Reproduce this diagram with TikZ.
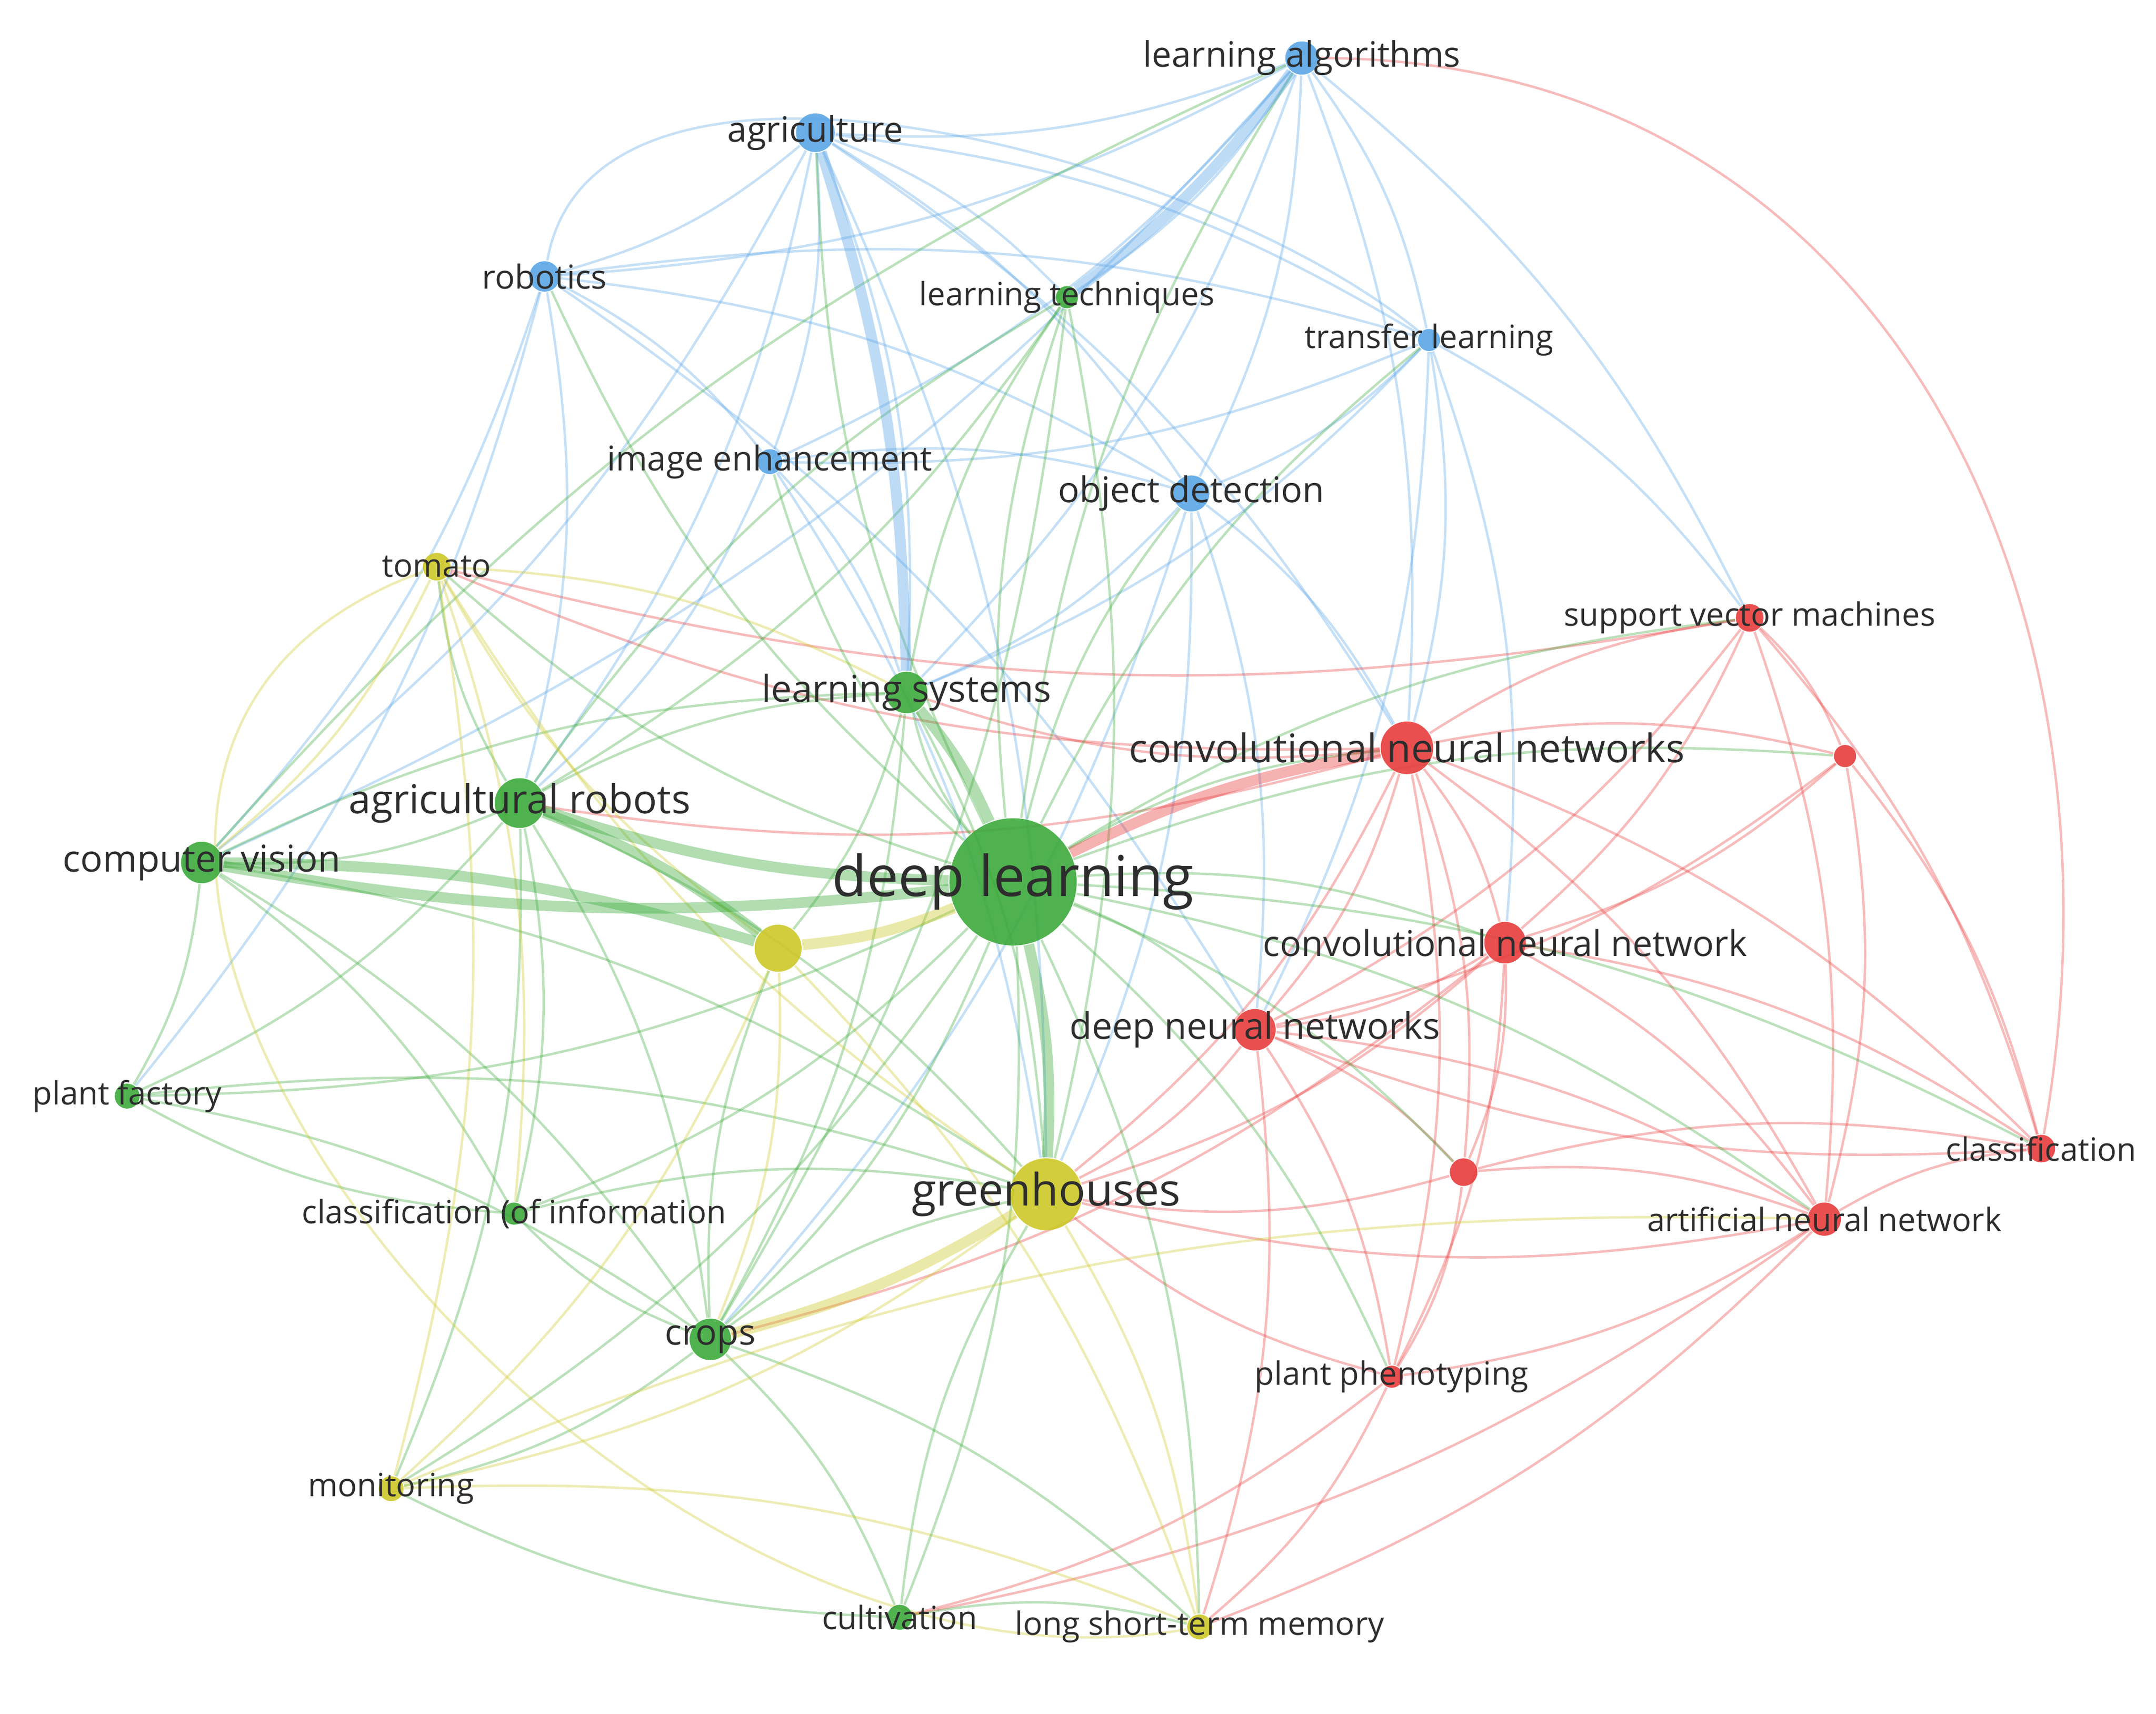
\documentclass[tikz,border=0pt]{standalone}
\usepackage{fontspec}
\setmainfont{Open Sans}
\pgfdeclarelayer{bg}
\pgfsetlayers{bg,main}
\begin{document}
\begin{tikzpicture}[x=0.01cm,y=-0.01cm]
\definecolor{G}{RGB}{60,170,60}
\definecolor{B}{RGB}{90,165,230}
\definecolor{R}{RGB}{232,60,60}
\definecolor{Y}{RGB}{205,200,40}
\definecolor{T}{RGB}{45,45,45}
\tikzset{
  nd/.style={circle,inner sep=0pt,fill=#1,draw=none,fill opacity=0.9},
  lb/.style={text=T,inner sep=0pt},
  edge/.style={draw=#1,draw opacity=0.35,line width=0.5pt},
  tedge/.style={draw=#1,draw opacity=0.4,line width=2.2pt}
}
\useasboundingbox (0,0) rectangle (1560,1240);
\newcommand\NN[5]{\node[nd=#5,minimum size=#4*0.02cm] (#1) at (#2,#3) {};}
\NN{la}{942}{42}{12}{B}
\NN{ag}{590}{96}{14}{B}
\NN{rob}{394}{200}{11}{B}
\NN{lt}{772}{215}{8}{G}
\NN{tl}{1034}{246}{8}{B}
\NN{ie}{557}{334}{9}{B}
\NN{od}{862}{357}{13}{B}
\NN{tom}{316}{410}{10}{Y}
\NN{svm}{1266}{447}{10}{R}
\NN{ls}{656}{501}{15}{G}
\NN{cnns}{1018}{541}{19}{R}
\NN{ra}{1335}{547}{8}{R}
\NN{ar}{376}{581}{18}{G}
\NN{cv}{146}{624}{15}{G}
\NN{dl}{733}{638}{46}{G}
\NN{ya}{563}{686}{17}{Y}
\NN{cnn}{1089}{682}{15}{R}
\NN{dnn}{908}{745}{15}{R}
\NN{pf}{92}{793}{9}{G}
\NN{cls}{1477}{831}{10}{R}
\NN{rb}{1059}{848}{10}{R}
\NN{gh}{757}{864}{26}{Y}
\NN{coi}{372}{878}{8}{G}
\NN{ann}{1320}{882}{12}{R}
\NN{crops}{514}{969}{15}{G}
\NN{pp}{1007}{996}{8}{R}
\NN{mon}{283}{1077}{9}{Y}
\NN{cul}{651}{1170}{9}{G}
\NN{lstm}{868}{1177}{9}{Y}
\begin{pgfonlayer}{bg}
\foreach \a/\b/\c in {
la/ag/B,la/rob/B,la/tl/B,la/od/B,la/ie/B,la/ls/B,la/lt/B,la/cnns/B,la/svm/B,la/cv/B,
ag/rob/B,ag/ie/B,ag/od/B,ag/tl/B,ag/ls/B,ag/lt/B,ag/cv/B,ag/ar/B,ag/gh/B,ag/cnns/B,
rob/ie/B,rob/od/B,rob/cv/B,rob/ar/B,rob/tl/B,rob/pf/B,rob/dnn/B,
tl/od/B,tl/cnns/B,tl/svm/B,tl/dnn/B,tl/cnn/B,tl/ie/B,tl/ls/B,
ie/od/B,ie/ls/B,ie/gh/B,ie/ar/B,od/cnns/B,od/gh/B,od/dnn/B,od/ls/B,od/crops/B,
cnns/svm/R,cnns/ra/R,cnns/cnn/R,cnns/dnn/R,cnns/ann/R,cnns/cls/R,cnns/pp/R,cnns/rb/R,cnns/gh/R,cnns/tom/R,cnns/ls/R,cnns/ar/R,
svm/ra/R,svm/ann/R,svm/cls/R,svm/cnn/R,svm/dnn/R,svm/tom/R,ra/ann/R,ra/cnn/R,ra/cls/R,ra/dnn/R,
cnn/dnn/R,cnn/ann/R,cnn/pp/R,cnn/rb/R,cnn/cls/R,cnn/gh/R,cnn/crops/R,dnn/rb/R,dnn/pp/R,dnn/ann/R,dnn/gh/R,dnn/lstm/R,
rb/ann/R,rb/pp/R,rb/cls/R,rb/gh/R,ann/cls/R,ann/pp/R,ann/gh/R,ann/lstm/R,ann/cul/R,pp/gh/R,pp/lstm/R,pp/cul/R,cls/dnn/R,
ar/cv/G,ar/ls/G,ar/crops/G,ar/coi/G,ar/pf/G,ar/gh/G,ar/tom/G,ar/mon/G,ar/lt/G,cv/pf/G,cv/crops/G,cv/gh/G,cv/ls/G,cv/coi/G,
ls/lt/G,ls/crops/G,ls/gh/G,ls/ya/G,lt/crops/G,lt/gh/G,lt/ar/G,crops/cul/G,crops/coi/G,crops/gh/G,crops/mon/G,crops/lstm/G,crops/ya/G,
coi/gh/G,coi/pf/G,pf/gh/G,pf/crops/G,cul/gh/G,cul/lstm/G,cul/mon/G,cv/la/G,
gh/lstm/Y,gh/mon/Y,gh/tom/Y,ya/tom/Y,ya/crops/Y,ya/lstm/Y,ya/mon/Y,tom/mon/Y,tom/ls/Y,mon/lstm/Y,mon/ann/Y,tom/cv/Y,tom/coi/Y,
dl/la/G,dl/ag/G,dl/rob/G,dl/lt/G,dl/tl/G,dl/ie/G,dl/od/G,dl/tom/G,dl/svm/G,dl/ls/G,dl/cnns/G,dl/ra/G,dl/pf/G,dl/cls/G,dl/rb/G,
dl/coi/G,dl/ann/G,dl/crops/G,dl/pp/G,dl/mon/G,dl/cul/G,dl/lstm/G,dl/cnn/G,dl/dnn/G}
{\draw[edge=\c] (\a) to[bend left=12] (\b);}
\foreach \a/\b/\c in {dl/gh/G,dl/ar/G,dl/cv/G,dl/ya/Y,ar/ya/G,cv/ya/G,ag/ls/B,la/lt/B,ls/dl/G,gh/crops/Y,dl/cnns/R}
{\draw[tedge=\c] (\a) to[bend left=8] (\b);}
\draw[edge=Y] (tom) to[out=200,in=190,looseness=1.2] (lstm);
\draw[edge=R] (la) to[out=0,in=80,looseness=1.1] (cls);
\draw[edge=B] (rob) to[out=80,in=140,looseness=0.8] (tl);
\end{pgfonlayer}
\node[lb,font=\fontsize{7.2}{8}\selectfont] (la-l) at (la) {learning algorithms};
\node[lb,font=\fontsize{7.2}{8}\selectfont] (ag-l) at (ag) {agriculture};
\node[lb,font=\fontsize{6.8}{8}\selectfont] (rob-l) at (rob) {robotics};
\node[lb,font=\fontsize{6.6}{8}\selectfont] (lt-l) at (lt) {learning techniques};
\node[lb,font=\fontsize{6.6}{8}\selectfont] (tl-l) at (tl) {transfer learning};
\node[lb,font=\fontsize{7}{8}\selectfont] (ie-l) at (ie) {image enhancement};
\node[lb,font=\fontsize{7.3}{8}\selectfont] (od-l) at (od) {object detection};
\node[lb,font=\fontsize{6.6}{8}\selectfont] (tom-l) at (tom) {tomato};
\node[lb,font=\fontsize{6.6}{8}\selectfont] (svm-l) at (svm) {support vector machines};
\node[lb,font=\fontsize{7.6}{8}\selectfont] (ls-l) at (ls) {learning systems};
\node[lb,font=\fontsize{8.1}{9}\selectfont] (cnns-l) at (cnns) {convolutional neural networks};
\node[lb,font=\fontsize{8.2}{9}\selectfont] (ar-l) at (ar) {agricultural robots};
\node[lb,font=\fontsize{7.6}{9}\selectfont] (cv-l) at (cv) {computer vision};
\node[lb,font=\fontsize{11.6}{14}\selectfont] (dl-l) at (dl) {deep learning};
\node[lb,font=\fontsize{7.3}{8}\selectfont] (cnn-l) at (cnn) {convolutional neural network};
\node[lb,font=\fontsize{7.5}{8}\selectfont] (dnn-l) at (dnn) {deep neural networks};
\node[lb,font=\fontsize{6.6}{8}\selectfont] (pf-l) at (pf) {plant factory};
\node[lb,font=\fontsize{6.6}{8}\selectfont] (cls-l) at (cls) {classification};
\node[lb,font=\fontsize{9.2}{11}\selectfont] (gh-l) at (gh) {greenhouses};
\node[lb,font=\fontsize{6.6}{8}\selectfont] (coi-l) at (coi) {classification (of information};
\node[lb,font=\fontsize{6.6}{8}\selectfont] (ann-l) at (ann) {artificial neural network};
\node[lb,font=\fontsize{7.3}{8}\selectfont] (crops-l) at (crops) {crops};
\node[lb,font=\fontsize{6.6}{8}\selectfont] (pp-l) at (pp) {plant phenotyping};
\node[lb,font=\fontsize{6.6}{8}\selectfont] (mon-l) at (mon) {monitoring};
\node[lb,font=\fontsize{6.6}{8}\selectfont] (cul-l) at (cul) {cultivation};
\node[lb,font=\fontsize{6.6}{8}\selectfont] (lstm-l) at (lstm) {long short-term memory};
\end{tikzpicture}
\end{document}
